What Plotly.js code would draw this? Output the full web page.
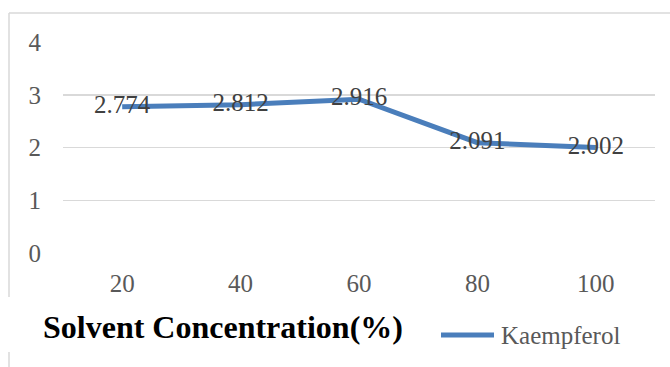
<!DOCTYPE html>
<html><head><meta charset="utf-8">
<script src="https://cdn.plot.ly/plotly-3.0.1.min.js"></script>
<style>html,body{margin:0;padding:0;background:#fff}</style>
</head><body>
<div id="chart" style="width:670px;height:367px"></div>
<script>
const categories = ["20", "40", "60", "80", "100"];
const kaempferol = [2.774, 2.812, 2.916, 2.091, 2.002];
const labels = ["2.774", "2.812", "2.916", "2.091", "2.002"];
const yTicks = [0, 1, 2, 3, 4];
const seriesName = "Kaempferol";
const xTitle = "Solvent Concentration(%)";
const lineColor = "#4a7ebb";

const trace = {
  x: categories, y: kaempferol, type: "scatter", mode: "lines+text",
  name: seriesName, showlegend: false,
  text: labels, textposition: "middle center",
  textfont: {family: "Liberation Serif", size: 25, color: "#404040"},
  line: {color: lineColor, width: 5},
  cliponaxis: false
};

const pw = 592, ph = 211;
const px = v => (v - 63) / pw;
const py = v => (253 - v) / ph;

const layout = {
  width: 670, height: 367,
  margin: {l: 63, r: 15, t: 42, b: 114},
  paper_bgcolor: "#fff", plot_bgcolor: "#fff",
  xaxis: {type: "category", range: [-0.5, 4.5], showgrid: false, zeroline: false, showline: false,
    ticks: "", tickfont: {family: "Liberation Serif", size: 25, color: "#595959"}, ticklabelstandoff: 13},
  yaxis: {range: [0, 4], tickvals: yTicks, showgrid: true, gridcolor: "#d9d9d9", gridwidth: 1.5,
    zeroline: false, showline: false, ticks: "",
    tickfont: {family: "Liberation Serif", size: 25, color: "#595959"}, ticklabelstandoff: 21},
  showlegend: false,
  annotations: [
    {xref: "paper", yref: "paper", x: px(41), y: py(327), xanchor: "left", yanchor: "middle",
     text: "<b>" + xTitle + "</b>", showarrow: false,
     font: {family: "Liberation Serif", size: 32, color: "#000"}},
    {xref: "paper", yref: "paper", x: px(499), y: py(335), xanchor: "left", yanchor: "middle",
     text: seriesName, showarrow: false,
     font: {family: "Liberation Serif", size: 25, color: "#595959"}}
  ],
  shapes: [
    {type: "line", xref: "paper", yref: "paper", x0: px(441), x1: px(494), y0: py(335), y1: py(335), line: {color: lineColor, width: 5}},
    {type: "line", xref: "paper", yref: "paper", x0: px(9), x1: px(672), y0: py(13), y1: py(13), line: {color: "#d9d9d9", width: 1.5}},
    {type: "line", xref: "paper", yref: "paper", x0: px(9), x1: px(9), y0: py(13), y1: py(297), line: {color: "#d9d9d9", width: 1.5}},
    {type: "line", xref: "paper", yref: "paper", x0: px(9), x1: px(9), y0: py(352), y1: py(368), line: {color: "#d9d9d9", width: 1.5}}
  ]
};
Plotly.newPlot("chart", [trace], layout, {displayModeBar: false, staticPlot: true});
</script>
</body></html>
